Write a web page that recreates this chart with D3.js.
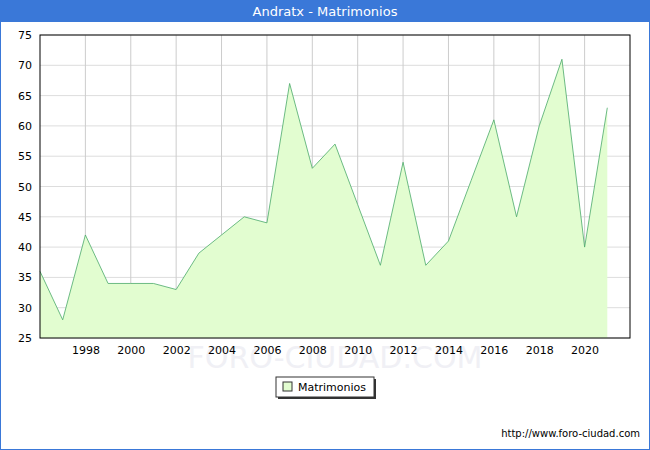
<!DOCTYPE html>
<html><head><meta charset="utf-8">
<script src="https://cdn.jsdelivr.net/npm/d3@7"></script>
<style>body{margin:0;font-family:Verdana,"DejaVu Sans",sans-serif;}</style>
</head><body><div id="chart"></div>
<script>
const years = [1996,1997,1998,1999,2000,2001,2002,2003,2004,2005,2006,2007,2008,2009,2010,2011,2012,2013,2014,2015,2016,2017,2018,2019,2020,2021];
const matrimonios = [36,28,42,34,34,34,33,39,42,45,44,67,53,57,47,37,54,37,41,51,61,45,60,71,40,63];
const yTicks = [25,30,35,40,45,50,55,60,65,70,75];
const xTicks = [1998,2000,2002,2004,2006,2008,2010,2012,2014,2016,2018,2020];

const W = 650, H = 450;
const margin = {top: 35, right: 20, bottom: 112, left: 40};
const width = W - margin.left - margin.right, height = H - margin.top - margin.bottom;

const svg = d3.select('#chart').append('svg').attr('width', W).attr('height', H);
svg.append('rect').attr('x',0.5).attr('y',0.5).attr('width',W-1).attr('height',H-1)
  .attr('fill','#fff').attr('stroke','#3a78d8');
svg.append('rect').attr('width',W).attr('height',22).attr('fill','#3a78d8');
svg.append('text').attr('x',W/2).attr('y',16).attr('text-anchor','middle')
  .attr('fill','#fff').style('font-size','13px').text('Andratx - Matrimonios');

const x = d3.scaleLinear().domain([1996,2022]).range([0,width]);
const y = d3.scaleLinear().domain([25,75]).range([height,0]);

const g = svg.append('g').attr('transform', `translate(${margin.left},${margin.top})`);

/// grid
g.selectAll('.hg').data(yTicks).join('line')
  .attr('x1',0).attr('x2',width).attr('y1',d=>y(d)).attr('y2',d=>y(d)).attr('stroke','#ddd');
g.selectAll('.vg').data(xTicks).join('line')
  .attr('y1',0).attr('y2',height).attr('x1',d=>x(d)).attr('x2',d=>x(d)).attr('stroke','#ccc');

/// watermark
g.append('text').attr('x',width/2).attr('y',height+30).attr('text-anchor','middle')
  .attr('fill','#f0f0f5').style('font-size','30px').text('FORO-CIUDAD.COM');

/// area + top line
const data = years.map((d,i)=>({year:d, v:matrimonios[i]}));
g.append('path').datum(data)
  .attr('d', d3.area().x(d=>x(d.year)).y0(height).y1(d=>y(d.v)))
  .attr('fill','#e2fdd0');
g.append('path').datum(data)
  .attr('d', d3.line().x(d=>x(d.year)).y(d=>y(d.v)))
  .attr('fill','none').attr('stroke','#4aaa6a').attr('stroke-width',0.8);

g.append('rect').attr('width',width).attr('height',height).attr('fill','none').attr('stroke','#000');

/// axes
const ya = g.append('g').call(d3.axisLeft(y).tickValues(yTicks).tickSize(0).tickPadding(8));
const xa = g.append('g').attr('transform',`translate(0,${height})`)
  .call(d3.axisBottom(x).tickValues(xTicks).tickFormat(d3.format('d')).tickSize(0).tickPadding(8));
[ya,xa].forEach(a=>{a.select('.domain').remove(); a.selectAll('text').style('font-size','11px').attr('fill','#000').style('font-family','Verdana,"DejaVu Sans",sans-serif');});

/// legend
const lg = svg.append('g').attr('transform','translate(276,377)');
lg.append('rect').attr('x',2).attr('y',2).attr('width',98).attr('height',20).attr('fill','#333');
lg.append('rect').attr('width',98).attr('height',20).attr('fill','#fff').attr('stroke','#333');
lg.append('rect').attr('x',7).attr('y',5).attr('width',9).attr('height',9).attr('fill','#e2fdd0').attr('stroke','#333');
lg.append('text').attr('x',22).attr('y',14).style('font-size','11px').text('Matrimonios');

svg.append('text').attr('x',W-10).attr('y',437).attr('text-anchor','end')
  .style('font-size','10px').text('http://www.foro-ciudad.com');
</script></body></html>
